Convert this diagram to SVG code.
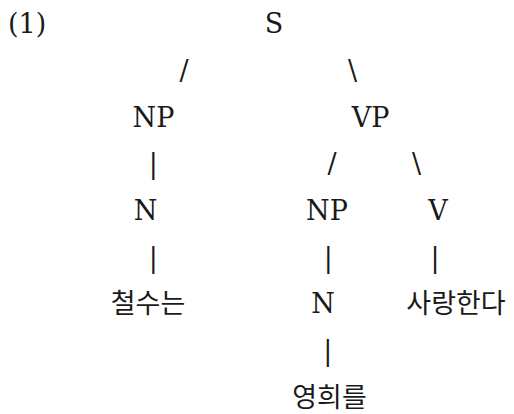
<svg xmlns="http://www.w3.org/2000/svg" width="514" height="414" viewBox="0 0 514 414">
<style>
text{font-family:"DejaVu Serif","Noto Sans CJK KR",serif;font-size:27px;fill:#1a1a1a;text-anchor:middle}
.ko{font-family:"Noto Sans CJK KR",sans-serif;font-size:27px}
.c{font-family:"DejaVu Sans Mono",monospace;font-size:27px}
</style>
<rect width="514" height="414" fill="#fff"/>
<text id="label" x="8" y="33.4" style="text-anchor:start">(1)</text>
<g id="nodes">
<g id="n-S"><text x="274" y="33.4">S</text></g>
<g id="n-NP1"><text x="153.4" y="126.7">NP</text></g>
<g id="n-VP"><text x="370.7" y="126.7">VP</text></g>
<g id="n-N1"><text x="145.5" y="220">N</text></g>
<g id="n-NP2"><text x="327" y="220">NP</text></g>
<g id="n-V"><text x="438" y="220">V</text></g>
<g id="n-chulsu"><text class="ko" x="148" y="313.3">철수는</text></g>
<g id="n-N2"><text x="323" y="313.3">N</text></g>
<g id="n-saranghanda"><text class="ko" x="456" y="313.3">사랑한다</text></g>
<g id="n-younghee"><text class="ko" x="329.5" y="406.7">영희를</text></g>
</g>
<g id="connectors">
<text x="184" y="80">/</text>
<text x="352.5" y="80">\</text>
<text x="153.3" y="173.3">|</text>
<text x="332" y="173.3">/</text>
<text x="416.5" y="173.3">\</text>
<text x="153.3" y="266.7">|</text>
<text x="328.3" y="266.7">|</text>
<text x="435" y="266.7">|</text>
<text x="327.7" y="360">|</text>
</g>
</svg>
